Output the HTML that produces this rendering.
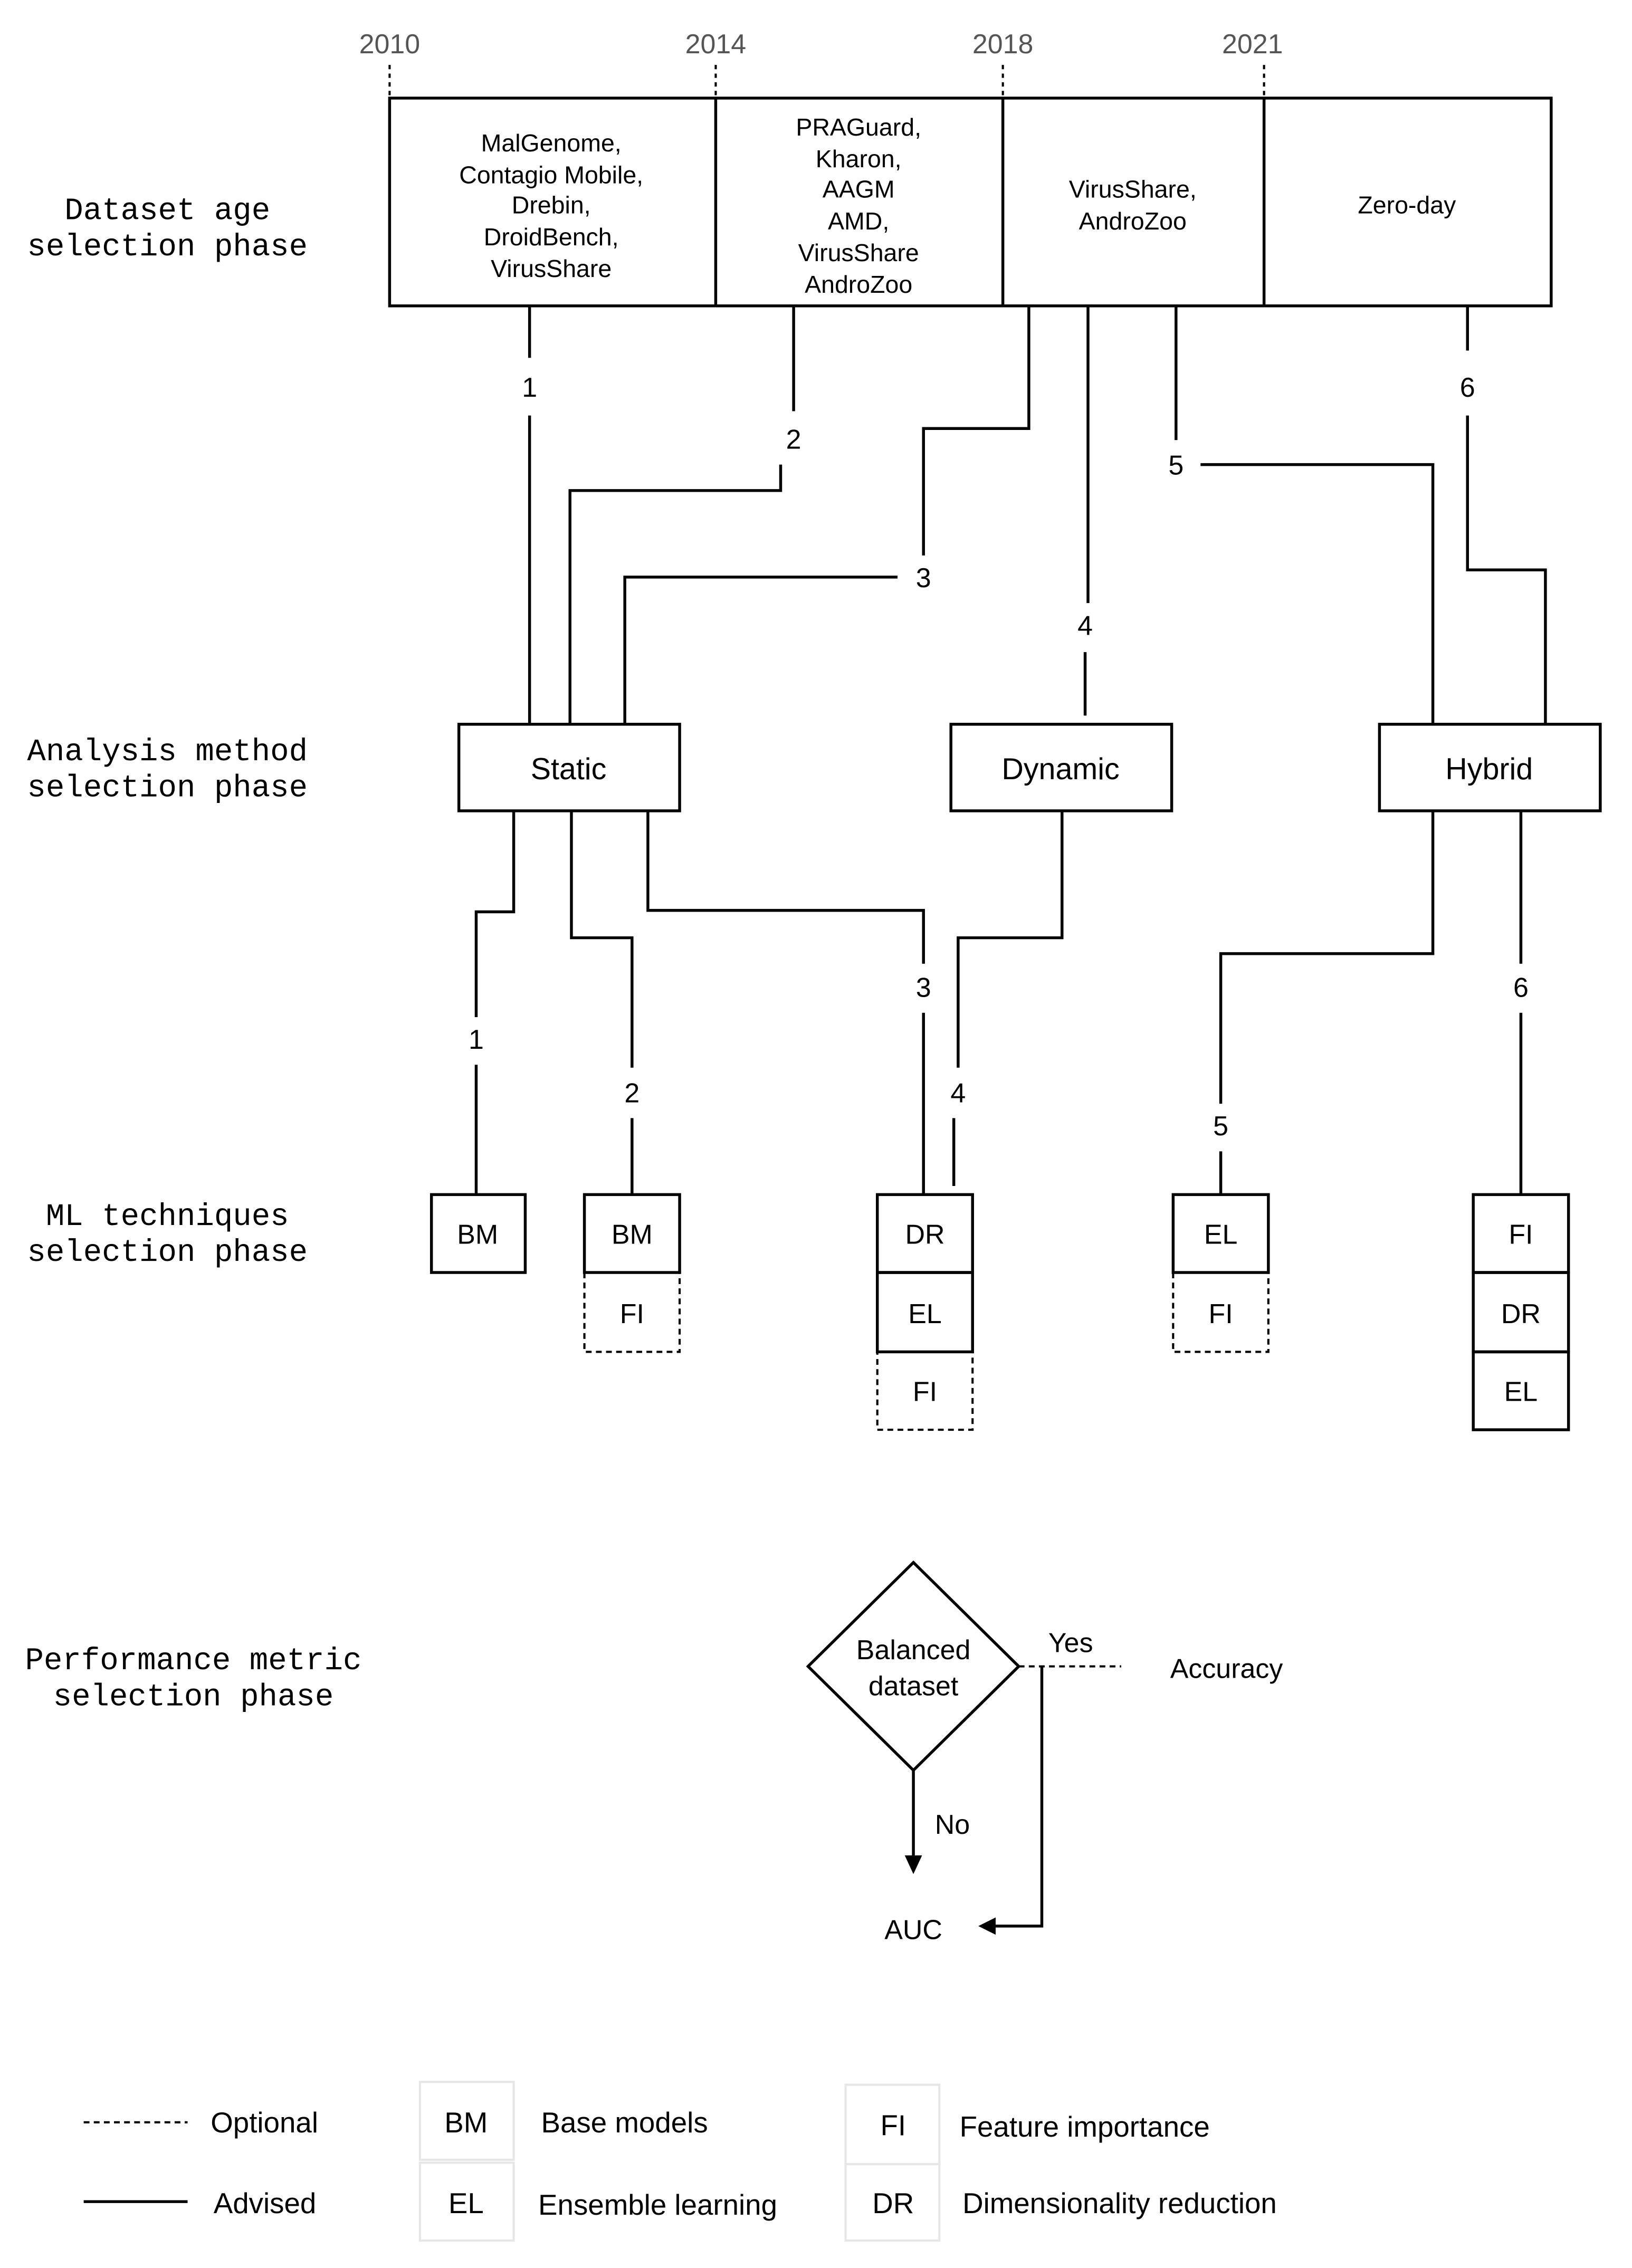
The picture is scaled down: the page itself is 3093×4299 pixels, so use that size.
<!DOCTYPE html>
<html><head><meta charset="utf-8"><style>
html,body{margin:0;padding:0;background:#fff;}
svg{display:block;}
.s{font-family:"Liberation Sans",sans-serif;fill:#000;}
.m{font-family:"Liberation Mono",monospace;fill:#000;font-size:21.6px;}
</style></head><body>
<svg width="3093" height="4299" viewBox="0 0 1131 1572" xmlns="http://www.w3.org/2000/svg">
<rect width="1131" height="1572" fill="#fff"/>
<g class="s" font-size="19" fill="#555" text-anchor="middle">
<text x="270" y="37" fill="#555">2010</text><text x="496" y="37" fill="#555">2014</text>
<text x="695" y="37" fill="#555">2018</text><text x="868" y="37" fill="#555">2021</text>
</g>
<g stroke="#000" stroke-width="1.5" stroke-dasharray="3,3" fill="none">
<line x1="270" y1="45" x2="270" y2="68"/><line x1="496" y1="45" x2="496" y2="68"/>
<line x1="695" y1="45" x2="695" y2="68"/><line x1="876" y1="45" x2="876" y2="68"/>
</g>
<g stroke="#000" stroke-width="2" fill="none">
<rect x="270" y="68" width="805" height="144"/>
<line x1="496" y1="68" x2="496" y2="212"/><line x1="695" y1="68" x2="695" y2="212"/><line x1="876" y1="68" x2="876" y2="212"/>
</g>
<g class="s" font-size="17" text-anchor="middle">
<text x="382" y="105">MalGenome,</text><text x="382" y="127">Contagio Mobile,</text><text x="382" y="148">Drebin,</text><text x="382" y="170">DroidBench,</text><text x="382" y="192">VirusShare</text>
<text x="595" y="94">PRAGuard,</text><text x="595" y="116">Kharon,</text><text x="595" y="137">AAGM</text><text x="595" y="159">AMD,</text><text x="595" y="181">VirusShare</text><text x="595" y="203">AndroZoo</text>
<text x="785" y="137">VirusShare,</text><text x="785" y="159">AndroZoo</text>
<text x="975" y="148">Zero-day</text>
</g>
<g class="m" text-anchor="middle">
<text x="116" y="152">Dataset age</text><text x="116" y="177">selection phase</text>
<text x="116" y="527">Analysis method</text><text x="116" y="552">selection phase</text>
<text x="116" y="849">ML techniques</text><text x="116" y="874">selection phase</text>
<text x="134" y="1157">Performance metric</text><text x="134" y="1182">selection phase</text>
</g>
<g stroke="#000" stroke-width="2" fill="none">
<polyline points="367,212 367,248"/><polyline points="367,288 367,502"/>
<polyline points="550,212 550,285"/><polyline points="541,322 541,340 395,340 395,502"/>
<polyline points="713,212 713,297 640,297 640,385"/><polyline points="622,400 433,400 433,502"/>
<polyline points="754,212 754,418"/><polyline points="752,452 752,496"/>
<polyline points="815,212 815,305"/><polyline points="832,322 993,322 993,502"/>
<polyline points="1017,212 1017,243"/><polyline points="1017,288 1017,395 1071,395 1071,502"/>
<rect x="318" y="502" width="153" height="60"/><rect x="659" y="502" width="153" height="60"/><rect x="956" y="502" width="153" height="60"/>
<polyline points="356,562 356,632 330,632 330,705"/><polyline points="330,738 330,828"/>
<polyline points="396,562 396,650 438,650 438,740"/><polyline points="438,775 438,828"/>
<polyline points="449,562 449,631 640,631 640,668"/><polyline points="640,702 640,828"/>
<polyline points="736,562 736,650 664,650 664,740"/><polyline points="661,775 661,822"/>
<polyline points="993,562 993,661 846,661 846,765"/><polyline points="846,798 846,828"/>
<polyline points="1054,562 1054,668"/><polyline points="1054,702 1054,828"/>
<rect x="299" y="828" width="65" height="54"/>
<rect x="405" y="828" width="66" height="54"/>
<rect x="608" y="828" width="66" height="54"/><rect x="608" y="882" width="66" height="55"/>
<rect x="813" y="828" width="66" height="54"/>
<rect x="1021" y="828" width="66" height="54"/><rect x="1021" y="882" width="66" height="55"/><rect x="1021" y="937" width="66" height="54"/>
</g>
<g stroke="#000" stroke-width="1.5" stroke-dasharray="4,3" fill="none">
<rect x="405" y="882" width="66" height="55"/><rect x="608" y="937" width="66" height="54"/><rect x="813" y="882" width="66" height="55"/>
</g>
<g class="s" font-size="19" text-anchor="middle">
<text x="367" y="275">1</text><text x="550" y="311">2</text><text x="640" y="407">3</text><text x="752" y="440">4</text><text x="815" y="329">5</text><text x="1017" y="275">6</text>
<text x="330" y="727">1</text><text x="438" y="764">2</text><text x="640" y="691">3</text><text x="664" y="764">4</text><text x="846" y="787">5</text><text x="1054" y="691">6</text>
</g>
<g class="s" font-size="21" text-anchor="middle">
<text x="394" y="540">Static</text><text x="735" y="540">Dynamic</text><text x="1032" y="540">Hybrid</text>
</g>
<g class="s" font-size="19" text-anchor="middle">
<text x="331" y="862">BM</text><text x="438" y="862">BM</text><text x="438" y="917">FI</text>
<text x="641" y="862">DR</text><text x="641" y="917">EL</text><text x="641" y="971">FI</text>
<text x="846" y="862">EL</text><text x="846" y="917">FI</text>
<text x="1054" y="862">FI</text><text x="1054" y="917">DR</text><text x="1054" y="971">EL</text>
</g>
<polygon points="633,1083 706,1155 633,1227 560,1155" fill="none" stroke="#000" stroke-width="2"/>
<g class="s" font-size="19" text-anchor="middle">
<text x="633" y="1150">Balanced</text><text x="633" y="1175">dataset</text>
<text x="742" y="1145">Yes</text><text x="850" y="1163">Accuracy</text>
<text x="660" y="1271">No</text><text x="633" y="1344">AUC</text>
</g>
<line x1="706" y1="1155" x2="777" y2="1155" stroke="#000" stroke-width="1.5" stroke-dasharray="4,3"/>
<polyline points="722,1155 722,1335 688,1335" fill="none" stroke="#000" stroke-width="2"/>
<polygon points="678,1335 690,1329 690,1341" fill="#000"/>
<line x1="633" y1="1227" x2="633" y2="1288" stroke="#000" stroke-width="2"/>
<polygon points="633,1299 627,1286 639,1286" fill="#000"/>
<line x1="58" y1="1471" x2="130" y2="1471" stroke="#000" stroke-width="1.5" stroke-dasharray="4,3"/>
<line x1="58" y1="1526" x2="130" y2="1526" stroke="#000" stroke-width="2"/>
<g stroke="#e6e6e6" stroke-width="1.5" fill="none">
<rect x="291" y="1443" width="65" height="54"/><rect x="291" y="1499" width="65" height="54"/>
<rect x="586" y="1445" width="65" height="55"/><rect x="586" y="1500" width="65" height="53"/>
</g>
<g class="s" font-size="20">
<text x="146" y="1478">Optional</text><text x="148" y="1534">Advised</text>
<text x="323" y="1478" text-anchor="middle">BM</text><text x="323" y="1534" text-anchor="middle">EL</text>
<text x="375" y="1478">Base models</text><text x="373" y="1535">Ensemble learning</text>
<text x="619" y="1480" text-anchor="middle">FI</text><text x="619" y="1534" text-anchor="middle">DR</text>
<text x="665" y="1481">Feature importance</text><text x="667" y="1534">Dimensionality reduction</text>
</g>
</svg>
</body></html>
